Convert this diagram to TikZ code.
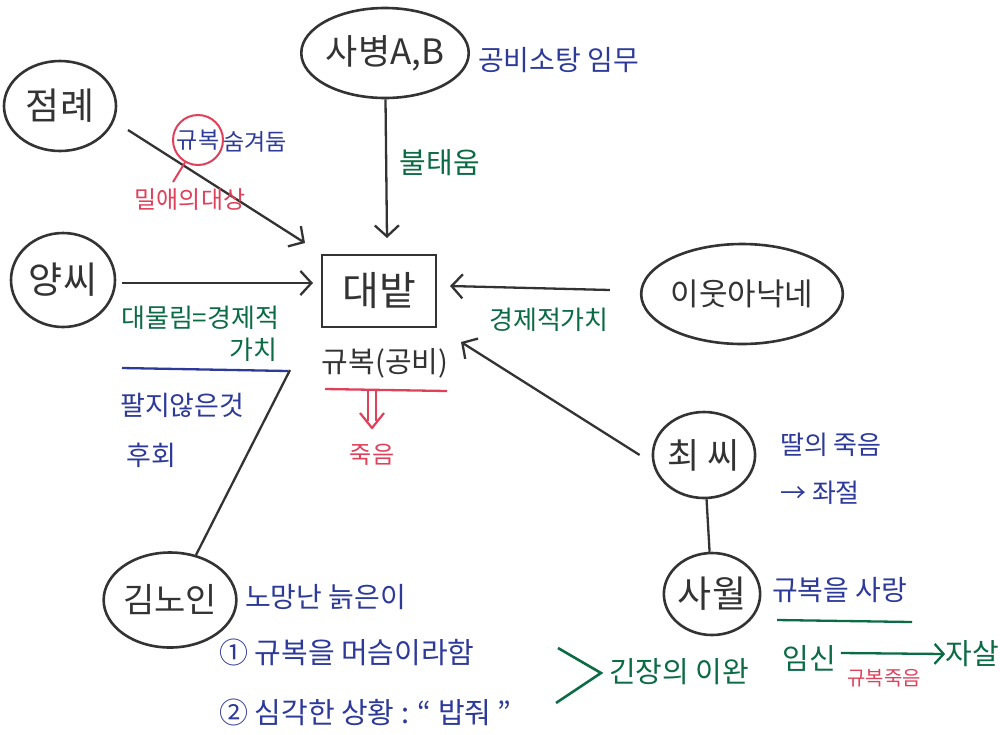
\documentclass[tikz,border=0pt]{standalone}
\usepackage{fontspec}
\setmainfont{Noto Sans CJK KR}
\usetikzlibrary{shapes.geometric,arrows.meta}
\definecolor{ink}{HTML}{333333}
\definecolor{pblue}{HTML}{2E3A9A}
\definecolor{pgreen}{HTML}{0B6B45}
\definecolor{pred}{HTML}{E0405A}
\newcommand{\fs}[1]{\fontsize{#1}{#1}\selectfont}
\tikzset{
  x=1pt, y=-1pt,
  person/.style={ellipse, draw=ink, line width=2.6pt, inner sep=0pt, text=ink},
  arr/.style={draw=ink, line width=2.3pt, -{Straight Barb[length=11pt,width=24pt,line width=2.3pt]}},
  link/.style={draw=ink, line width=2.3pt},
  bluetxt/.style={text=pblue, inner sep=0pt},
  greentxt/.style={text=pgreen, inner sep=0pt},
  redtxt/.style={text=pred, inner sep=0pt},
}
\begin{document}
\begin{tikzpicture}
\useasboundingbox (0,0) rectangle (1000,734);
\fill[white] (0,0) rectangle (1000,734);

% central box
\node[draw=ink, line width=2.6pt, minimum width=114pt, minimum height=72pt, text=ink, font=\fs{40}] (box) at (379,291) {대밭};
\node[text=ink, inner sep=0pt, font=\fs{29}] (gyubok) at (385,363) {규복(공비)};
\coordinate (rl1) at (325,389); \coordinate (rl2) at (447,391);
\draw[pred, line width=2.3pt] (rl1) -- (rl2);
\coordinate (da1) at (368,391); \coordinate (da2) at (368,421);
\coordinate (db1) at (376,391); \coordinate (db2) at (376,421);
\coordinate (dv1) at (360,413); \coordinate (dv2) at (372,428); \coordinate (dv3) at (384,413);
\draw[pred, line width=2.2pt] (da1) -- (da2) (db1) -- (db2);
\draw[pred, line width=2.2pt, line join=round] (dv1) -- (dv2) -- (dv3);
\node[redtxt, font=\fs{24}] (death) at (372,455) {죽음};

% soldiers
\node[person, minimum width=146pt, minimum height=90pt, font=\fs{35}] (sab) at (385,53) {사병A,B};
\node[bluetxt, font=\fs{28}, anchor=west] (gongbi) at (478,60) {공비소탕 임무};
\coordinate (t0) at (387,238);
\draw[arr] (sab) -- (t0);
\node[greentxt, font=\fs{29}] (burn) at (440,163) {불태움};

% jeomrye
\node[person, minimum width=112pt, minimum height=90pt, font=\fs{37}] (jeom) at (60,106) {점례};
\coordinate (s1) at (128,130); \coordinate (t1) at (305,243);
\draw[arr] (s1) -- (t1);
\node[text=pblue, inner sep=0pt, font=\fs{23}] (gb) at (198,140) {규복};
\node[bluetxt, font=\fs{23}, anchor=west] (hide) at (223,142) {숨겨둠};
\node[circle, draw=pred, line width=2pt, minimum size=50pt, inner sep=0pt] (gbc) at (198,140) {};
\coordinate (rt) at (173,182);
\draw[pred, line width=2pt] (gbc.-120) -- (rt);
\node[redtxt, font=\fs{24}] (love) at (190,200) {밀애의대상};

% yang
\node[person, minimum width=104pt, minimum height=94pt, font=\fs{37}] (yang) at (63,280) {양씨};
\coordinate (t2) at (313,283);
\draw[arr] (yang.east) ++(6,3) -- (t2);
\node[greentxt, font=\fs{26}, anchor=west] (inh) at (121,318) {대물림=경제적};
\node[greentxt, font=\fs{26}] (gachi) at (253,350) {가치};
\coordinate (bl1) at (122,368); \coordinate (bl2) at (288,371);
\draw[pblue, line width=2.3pt] (bl1) -- (bl2);
\node[bluetxt, font=\fs{27}, anchor=west] (notsell) at (120,405) {팔지않은것};
\node[bluetxt, font=\fs{27}, anchor=west] (regret) at (126,455) {후회};

% neighbour
\node[person, minimum width=180pt, minimum height=100pt, font=\fs{31}] (nb) at (742,294) {이웃아낙네};
\coordinate (t3) at (450,286);
\draw[arr] (nb.west) ++(-30,-4) -- (t3);
\node[greentxt, font=\fs{26}] (econ) at (549,320) {경제적가치};

% choi
\node[person, minimum width=100pt, minimum height=86pt, font=\fs{35}] (choi) at (704,455) {최 씨};
\coordinate (t4) at (461,342);
\draw[arr] (choi.west) ++(-12,0) -- (t4);
\node[bluetxt, font=\fs{26}, anchor=west] (dd) at (780,445) {딸의 죽음};
\node[bluetxt, font=\fs{26}, anchor=west] (fr) at (780,493) {→ 좌절};

% sawol
\node[person, minimum width=96pt, minimum height=82pt, font=\fs{37}] (sawol) at (712,594) {사월};
\draw[link] (choi) -- (sawol);
\node[bluetxt, font=\fs{28}, anchor=west] (lv) at (772,590) {규복을 사랑};
\coordinate (gl1) at (777,620); \coordinate (gl2) at (912,622);
\draw[pgreen, line width=2.3pt] (gl1) -- (gl2);
\node[greentxt, font=\fs{29}] (preg) at (809,658) {임신};
\node[greentxt, font=\fs{29}] (suic) at (972,654) {자살};
\draw[pgreen, line width=2.3pt, -{Straight Barb[length=9pt,width=20pt,line width=2.3pt]}] (preg.east) ++(5,-5) -- (suic.west);
\node[redtxt, font=\fs{20}] (gd) at (884,678) {규복죽음};

% kim
\node[person, minimum width=118pt, minimum height=95pt, font=\fs{34}] (kim) at (170,600) {김노인};
\coordinate (kt) at (290,370);
\draw[link] (kim.60) -- (kt);
\node[bluetxt, font=\fs{28}, anchor=west] (old) at (245,597) {노망난 늙은이};
\node[bluetxt, font=\fs{29}, anchor=west] (n1) at (219,652) {① 규복을 머슴이라함};
\node[bluetxt, font=\fs{29}, anchor=west] (n2) at (219,712) {② 심각한 상황 : “ 밥줘 ”};
\coordinate (g1) at (558,648); \coordinate (g2) at (601,673); \coordinate (g3) at (556,703);
\draw[pgreen, line width=2.6pt] (g1) -- (g2) -- (g3);
\node[greentxt, font=\fs{29}, anchor=west] (ten) at (609,672) {긴장의 이완};
\end{tikzpicture}
\end{document}
